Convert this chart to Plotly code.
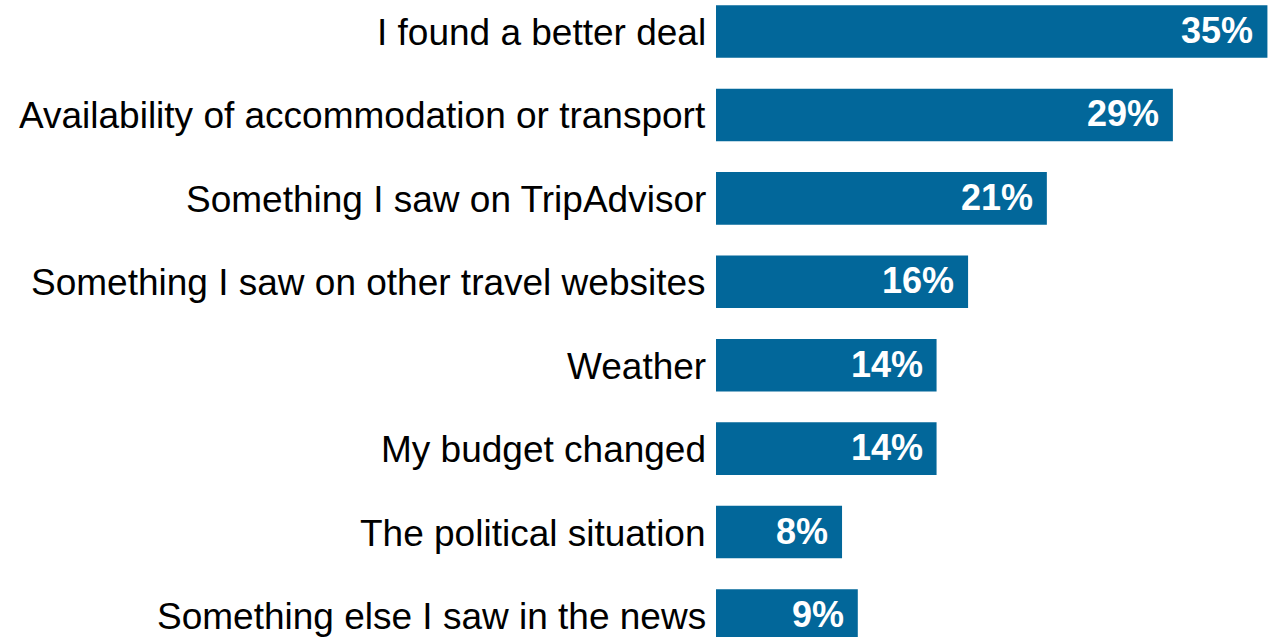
import plotly.graph_objects as go

# Reasons for changing travel plans (share of respondents, %)
reasons = [
    "I found a better deal",
    "Availability of accommodation or transport",
    "Something I saw on TripAdvisor",
    "Something I saw on other travel websites",
    "Weather",
    "My budget changed",
    "The political situation",
    "Something else I saw in the news",
]
shares = [35, 29, 21, 16, 14, 14, 8, 9]
share_labels = [f"{v}%" for v in shares]

BAR_COLOR = "#02679a"
FONT = "Liberation Sans, Arial, sans-serif"

fig = go.Figure(
    go.Bar(
        x=shares,
        y=reasons,
        orientation="h",
        marker=dict(color=BAR_COLOR, line=dict(width=0)),
        width=0.63,
        hoverinfo="skip",
    )
)

for r, v, t in zip(reasons, shares, share_labels):
    # value label inside the end of each bar
    fig.add_annotation(
        x=v, y=r, text=f"<b>{t}</b>",
        xanchor="right", yanchor="middle", xshift=-12, yshift=1,
        showarrow=False,
        font=dict(family=FONT, size=36, color="white"),
    )
    # category label to the left of the bar
    fig.add_annotation(
        x=0, y=r, text=r,
        xanchor="right", yanchor="middle", xshift=-8, yshift=-1,
        showarrow=False,
        font=dict(family=FONT, size=37, color="black"),
    )

fig.update_layout(
    width=1269,
    height=637,
    margin=dict(l=716, r=0, t=0, b=0, pad=0),
    paper_bgcolor="white",
    plot_bgcolor="white",
    showlegend=False,
    font=dict(family=FONT, color="black"),
)
fig.update_xaxes(
    range=[0, 35.1], visible=False, fixedrange=True,
)
fig.update_yaxes(
    type="category",
    categoryorder="array",
    categoryarray=reasons,
    range=[7.2576, -0.3776],
    showgrid=False, zeroline=False, showline=False,
    showticklabels=False, ticks="",
    automargin=False,
    fixedrange=True,
)

fig.write_html("out.html", config={"displayModeBar": False})
